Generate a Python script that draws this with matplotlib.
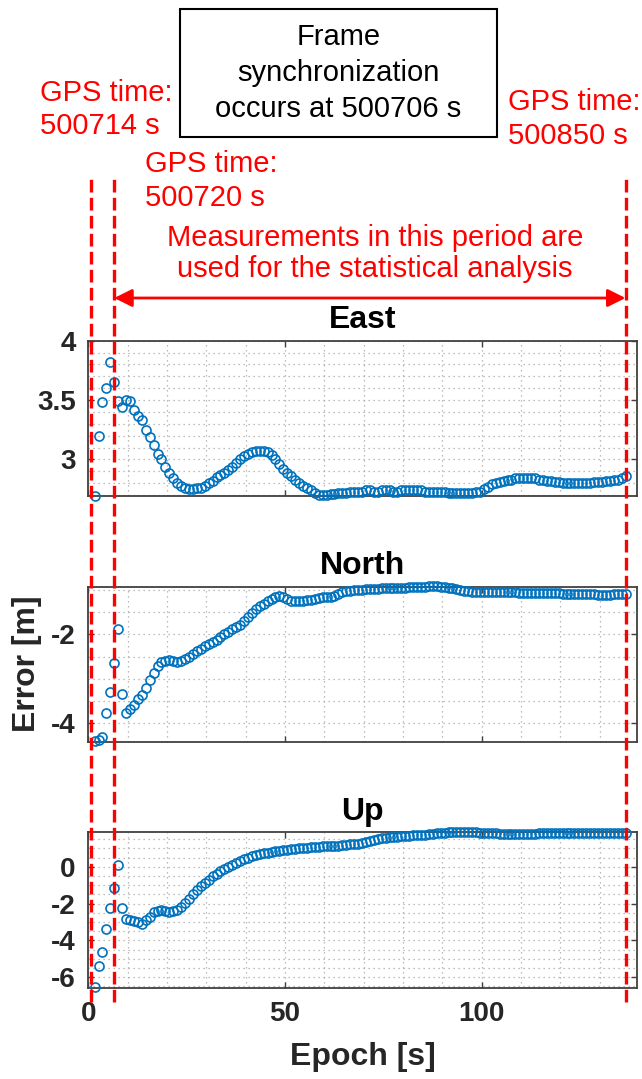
import numpy as np
import matplotlib
matplotlib.use("Agg")
import matplotlib.pyplot as plt
from matplotlib.lines import Line2D
from matplotlib.patches import Rectangle
from matplotlib.ticker import MultipleLocator
from matplotlib.transforms import blended_transform_factory

plt.rcParams["font.family"] = ["Liberation Sans", "DejaVu Sans"]
plt.rcParams["axes.unicode_minus"] = False

# GPS second that sits at epoch 0 on the x axis
T0 = 500713.4
gps_time = np.arange(500715, 500851)
epoch = gps_time - T0

GPS_SYNC = 500706
GPS_FIRST = 500714
GPS_STAT = 500720
GPS_LAST = 500850

# ENU position error [m], one value per second
east = [2.69, 3.20, 3.48, 3.60, 3.82, 3.65, 3.49, 3.44, 3.50, 3.49,
        3.42, 3.37, 3.33, 3.25, 3.19, 3.12, 3.05, 3.00, 2.94, 2.89,
        2.84, 2.80, 2.78, 2.76, 2.75, 2.75, 2.76, 2.76, 2.78, 2.80,
        2.82, 2.85, 2.87, 2.89, 2.91, 2.94, 2.97, 3.00, 3.03, 3.05,
        3.06, 3.07, 3.07, 3.07, 3.06, 3.04, 3.00, 2.96, 2.92, 2.89,
        2.86, 2.83, 2.80, 2.78, 2.76, 2.74, 2.72, 2.70, 2.70, 2.70,
        2.71, 2.71, 2.72, 2.72, 2.72, 2.73, 2.73, 2.73, 2.73, 2.74,
        2.74, 2.73, 2.73, 2.74, 2.74, 2.74, 2.73, 2.73, 2.74, 2.74,
        2.74, 2.74, 2.74, 2.74, 2.73, 2.73, 2.73, 2.73, 2.73, 2.73,
        2.72, 2.72, 2.72, 2.72, 2.72, 2.72, 2.72, 2.73, 2.73, 2.75,
        2.77, 2.79, 2.80, 2.81, 2.82, 2.83, 2.83, 2.84, 2.84, 2.84,
        2.84, 2.84, 2.84, 2.83, 2.83, 2.82, 2.82, 2.81, 2.81, 2.80,
        2.80, 2.80, 2.80, 2.80, 2.80, 2.80, 2.80, 2.81, 2.81, 2.81,
        2.82, 2.82, 2.83, 2.83, 2.84, 2.86]

north = [-4.40, -4.37, -4.31, -3.76, -3.29, -2.64, -1.88, -3.34, -3.76, -3.68,
         -3.58, -3.45, -3.37, -3.20, -3.03, -2.86, -2.71, -2.63, -2.59, -2.58,
         -2.60, -2.61, -2.59, -2.56, -2.50, -2.44, -2.37, -2.32, -2.27, -2.22,
         -2.17, -2.12, -2.05, -1.99, -1.94, -1.88, -1.83, -1.78, -1.70, -1.60,
         -1.52, -1.44, -1.37, -1.31, -1.25, -1.20, -1.17, -1.15, -1.17, -1.21,
         -1.25, -1.26, -1.26, -1.25, -1.23, -1.22, -1.20, -1.18, -1.17, -1.17,
         -1.16, -1.14, -1.09, -1.05, -1.03, -1.02, -1.01, -1.00, -1.00, -0.99,
         -0.99, -0.98, -0.98, -0.97, -0.97, -0.96, -0.96, -0.95, -0.95, -0.95,
         -0.94, -0.94, -0.93, -0.93, -0.93, -0.92, -0.92, -0.92, -0.93, -0.94,
         -0.95, -0.97, -0.99, -1.01, -1.02, -1.03, -1.04, -1.04, -1.05, -1.05,
         -1.05, -1.05, -1.06, -1.06, -1.06, -1.06, -1.06, -1.06, -1.07, -1.07,
         -1.07, -1.07, -1.07, -1.07, -1.08, -1.08, -1.08, -1.08, -1.08, -1.09,
         -1.09, -1.09, -1.09, -1.09, -1.10, -1.10, -1.10, -1.10, -1.11, -1.11,
         -1.11, -1.11, -1.10, -1.10, -1.10, -1.09]

up = [-6.55, -5.40, -4.62, -3.40, -2.21, -1.14, 0.09, -2.21, -2.81, -2.90,
      -2.95, -2.98, -3.08, -2.88, -2.70, -2.45, -2.39, -2.36, -2.39, -2.43,
      -2.39, -2.32, -2.17, -1.96, -1.72, -1.49, -1.27, -1.05, -0.87, -0.69,
      -0.51, -0.36, -0.24, -0.11, 0.00, 0.11, 0.22, 0.33, 0.42, 0.51,
      0.58, 0.65, 0.70, 0.74, 0.78, 0.82, 0.85, 0.88, 0.91, 0.94,
      0.97, 0.99, 1.01, 1.03, 1.05, 1.07, 1.09, 1.10, 1.11, 1.12,
      1.13, 1.14, 1.16, 1.18, 1.20, 1.22, 1.24, 1.27, 1.30, 1.34,
      1.40, 1.46, 1.51, 1.55, 1.58, 1.60, 1.62, 1.64, 1.66, 1.68,
      1.70, 1.71, 1.73, 1.74, 1.76, 1.78, 1.80, 1.82, 1.84, 1.86,
      1.87, 1.88, 1.88, 1.88, 1.88, 1.88, 1.88, 1.87, 1.86, 1.85,
      1.84, 1.83, 1.82, 1.81, 1.80, 1.79, 1.79, 1.78, 1.79, 1.79,
      1.80, 1.80, 1.81, 1.82, 1.83, 1.84, 1.84, 1.85, 1.85, 1.86,
      1.86, 1.86, 1.86, 1.86, 1.86, 1.86, 1.85, 1.85, 1.85, 1.85,
      1.84, 1.84, 1.84, 1.83, 1.83, 1.83]

titles = ["East", "North", "Up"]
ylims = [(2.69, 4.0), (-4.41, -0.93), (-6.6, 1.88)]
yticks = [[3, 3.5, 4], [-4, -2], [-6, -4, -2, 0]]
ysteps = [0.1, 0.5, 0.5]
xticks = [0, 50, 100]

BLUE = "#0072BD"
TXT = "#262626"
W, H = 642, 1079

fig = plt.figure(figsize=(W / 100, H / 100), dpi=100)

# axes boxes in pixels: (top, bottom)
boxes = [(340.7, 496.3), (586.7, 741.7), (832.3, 988.3)]
left_px, right_px = 88.3, 637.3

axes = []
for i, (top, bot) in enumerate(boxes):
    ax = fig.add_axes([left_px / W, 1 - bot / H, (right_px - left_px) / W, (bot - top) / H])
    ax.plot(epoch, [east, north, up][i], "o", mfc="none", mec=BLUE, ms=6.5,
            mew=1.2, clip_on=False, zorder=3)
    ax.set_xlim(0, 139.6)
    ax.set_ylim(*ylims[i])
    ax.set_yticks(yticks[i], labels=[f"{t:g}" for t in yticks[i]],
                  fontsize=20, fontweight="bold", color=TXT)
    if i == 2:
        ax.set_xticks(xticks, labels=[str(t) for t in xticks],
                      fontsize=20, fontweight="bold", color=TXT)
    else:
        ax.set_xticks(xticks, labels=[])
    ax.xaxis.set_minor_locator(MultipleLocator(10))
    ax.yaxis.set_minor_locator(MultipleLocator(ysteps[i]))
    ax.grid(True, which="both", color="#a8a8a8", linestyle=(0, (1, 3)), linewidth=0.9)
    ax.tick_params(which="major", direction="in", top=True, right=True,
                   length=4, width=1, color="#404040", pad=9)
    ax.tick_params(which="minor", length=0)
    for s in ax.spines.values():
        s.set_color("#404040")
        s.set_linewidth(1.3)
    ax.set_title(titles[i], fontsize=23, fontweight="bold", pad=9)
    axes.append(ax)

axes[1].set_ylabel("Error [m]", fontsize=23, fontweight="bold", color=TXT)
axes[1].yaxis.set_label_coords(-0.084, 0.5)
axes[2].set_xlabel("Epoch [s]", fontsize=23, fontweight="bold", color=TXT, labelpad=11)

# red markers for the analysis window, spanning all three panels
trans = blended_transform_factory(axes[0].transData, fig.transFigure)
y_top, y_bot = 1 - 176 / H, 1 - 1002 / H
for g in [GPS_FIRST, GPS_STAT, GPS_LAST]:
    fig.add_artist(Line2D([g - T0, g - T0], [y_bot, y_top], transform=trans,
                          color="red", lw=2.4, linestyle=(0, (3.8, 1.6)),
                          clip_on=False, zorder=5))

y_arrow = 1 - 298 / H
axes[0].annotate("", xy=(GPS_LAST - T0, y_arrow), xytext=(GPS_STAT - T0, y_arrow),
                 xycoords=trans, textcoords=trans, annotation_clip=False,
                 arrowprops=dict(arrowstyle="<|-|>,head_length=0.4,head_width=0.2",
                                 color="red", lw=2, mutation_scale=27,
                                 shrinkA=0, shrinkB=0))

fs = 21
fig.text(40 / W, 1 - 109.5 / H, f"GPS time:\n{GPS_FIRST} s", color="red",
         fontsize=fs, ha="left", va="center", linespacing=1.27)
fig.text(145 / W, 1 - 181 / H, f"GPS time:\n{GPS_STAT} s", color="red",
         fontsize=fs, ha="left", va="center", linespacing=1.27)
fig.text(508 / W, 1 - 119 / H, f"GPS time:\n{GPS_LAST} s", color="red",
         fontsize=fs, ha="left", va="center", linespacing=1.27)
fig.text(375 / W, 1 - 253.5 / H,
         "Measurements in this period are\nused for the statistical analysis",
         color="red", fontsize=fs, ha="center", va="center", linespacing=1.18)

fig.add_artist(Rectangle((180 / W, 1 - 137.3 / H), 317 / W, 128 / H,
                         transform=fig.transFigure, fill=False, ec="black", lw=1.5))
fig.text(338.5 / W, 1 - 73 / H, f"Frame\nsynchronization\noccurs at {GPS_SYNC} s",
         color="black", fontsize=fs, ha="center", va="center", linespacing=1.35)

fig.savefig("out.png", dpi=100)
